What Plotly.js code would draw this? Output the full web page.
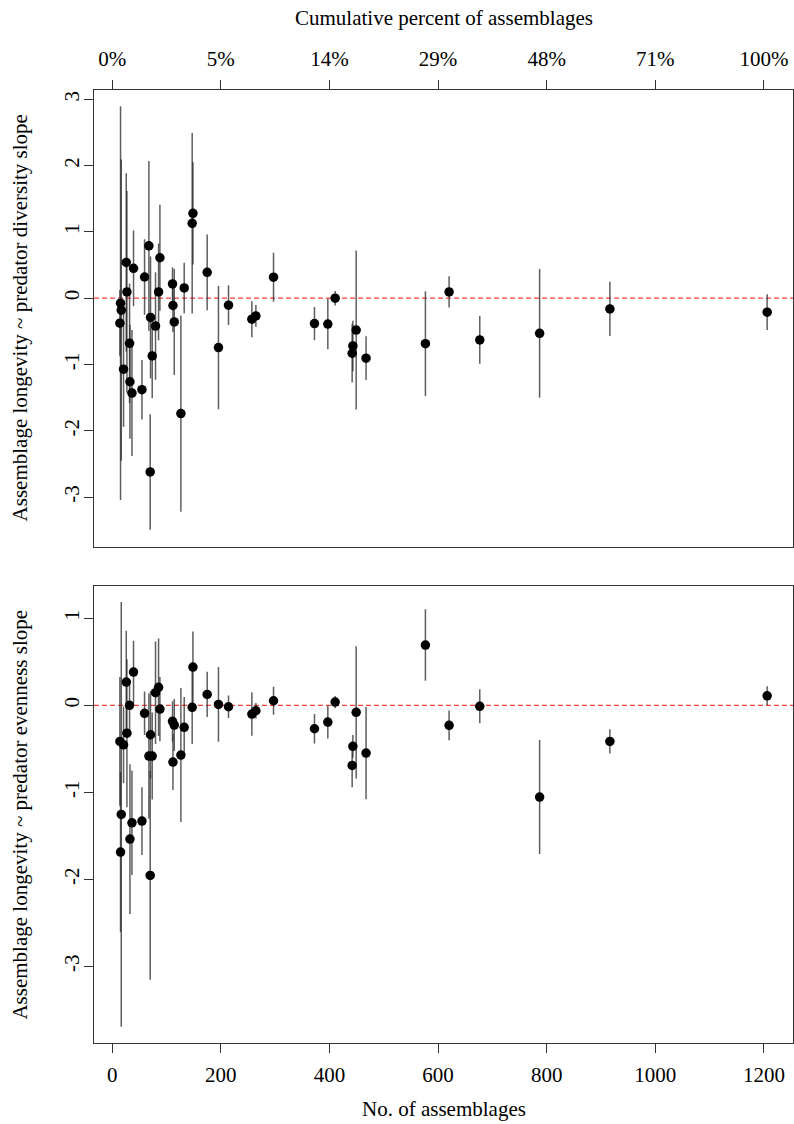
<!DOCTYPE html>
<html>
<head>
<meta charset="utf-8">
<script src="https://cdn.plot.ly/plotly-3.0.1.min.js"></script>
<style>html,body{margin:0;padding:0;background:#fff}#chart{width:794px;height:1124px}</style>
</head>
<body>
<div id="chart"></div>
<script>
// Number of assemblages (shared by both panels)
const nAssemb = [14.1, 15.3, 16.6, 20.8, 25.8, 27.0, 31.9, 32.6, 36.3, 39.2, 54.7, 59.5, 67.5, 69.9, 70.5, 73.6, 79.7, 85.3, 87.8, 111.0, 111.8, 114.2, 126.4, 132.5, 147.2, 148.6, 174.8, 195.6, 214.1, 257.1, 264.5, 297.0, 372.4, 397.0, 410.5, 441.8, 443.1, 449.2, 467.4, 576.7, 620.3, 676.8, 787.0, 916.4, 1206.0];

// Top panel: longevity ~ predator diversity slope, with CI half-widths
const divSlope = [-0.377, -0.075, -0.18, -1.07, 0.54, 0.095, -0.68, -1.26, -1.43, 0.45, -1.38, 0.32, 0.79, -2.62, -0.29, -0.87, -0.42, 0.095, 0.61, 0.215, -0.11, -0.357, -1.74, 0.155, 1.13, 1.28, 0.39, -0.745, -0.105, -0.317, -0.267, 0.317, -0.383, -0.39, 0.0, -0.83, -0.72, -0.48, -0.905, -0.685, 0.095, -0.63, -0.53, -0.161, -0.21];
const divErr = [0.5, 2.97, 2.27, 0.87, 1.345, 1.52, 0.9, 0.86, 0.95, 0.57, 0.45, 0.57, 1.28, 0.87, 0.92, 0.64, 0.81, 0.73, 0.8, 0.25, 0.4, 0.8, 1.48, 0.38, 1.36, 0.77, 0.57, 0.93, 0.3, 0.27, 0.165, 0.37, 0.25, 0.38, 0.11, 0.44, 0.38, 1.2, 0.33, 0.79, 0.235, 0.36, 0.97, 0.41, 0.27];

// Bottom panel: longevity ~ predator evenness slope, with CI half-widths
const evenSlope = [-0.414, -1.686, -1.253, -0.453, 0.268, -0.32, 0.0, -1.537, -1.35, 0.383, -1.33, -0.092, -0.583, -1.954, -0.338, -0.583, 0.145, 0.207, -0.043, -0.184, -0.652, -0.226, -0.571, -0.253, -0.023, 0.44, 0.126, 0.011, -0.016, -0.10, -0.062, 0.053, -0.269, -0.192, 0.038, -0.69, -0.471, -0.08, -0.548, 0.693, -0.23, -0.011, -1.054, -0.414, 0.11];
const evenErr = [0.74, 0.92, 2.44, 0.44, 0.59, 0.85, 0.3, 0.86, 0.6, 0.36, 0.39, 0.25, 0.72, 1.2, 0.5, 0.5, 0.59, 0.56, 0.37, 0.23, 0.32, 0.3, 0.77, 0.35, 0.42, 0.41, 0.26, 0.43, 0.13, 0.25, 0.09, 0.16, 0.17, 0.19, 0.07, 0.25, 0.13, 0.76, 0.53, 0.41, 0.17, 0.195, 0.655, 0.14, 0.11];

// Axis ticks
const xTicks = [0, 200, 400, 600, 800, 1000, 1200];
const xTickText = ['0', '200', '400', '600', '800', '1000', '1200'];
const pctTickText = ['0%', '5%', '14%', '29%', '48%', '71%', '100%'];
const yTopTicks = [-3, -2, -1, 0, 1, 2, 3];
const yBotTicks = [-3, -2, -1, 0, 1];

const FONT = 'Liberation Serif, Times New Roman, serif';
const FS = 21;
const AX = '#333';
const XRANGE = [-33.6, 1253.6];

function errBar(arr) {
  return {type: 'data', array: arr, symmetric: true, visible: true, width: 0, thickness: 1.5, color: 'rgba(40,40,40,0.75)'};
}
const marker = {color: '#000', size: 9.5, line: {width: 0}};

const traces = [
  {x: nAssemb, y: divSlope, xaxis: 'x2', yaxis: 'y2', type: 'scatter', mode: 'markers', marker: marker, error_y: errBar(divErr), hoverinfo: 'x+y'},
  {x: nAssemb, y: evenSlope, xaxis: 'x', yaxis: 'y', type: 'scatter', mode: 'markers', marker: marker, error_y: errBar(evenErr), hoverinfo: 'x+y'}
];

const baseAxis = {
  ticks: 'outside', ticklen: 9, tickwidth: 1, tickcolor: AX,
  showline: true, linecolor: AX, linewidth: 1, mirror: true,
  showgrid: false, zeroline: false, ticklabeloverflow: 'allow',
  tickfont: {family: FONT, size: FS, color: '#000'}
};

const layout = {
  width: 794, height: 1124,
  margin: {l: 94, r: 1, t: 90, b: 81},
  paper_bgcolor: '#fff', plot_bgcolor: '#fff',
  showlegend: false,
  font: {family: FONT, size: FS, color: '#000'},
  xaxis: Object.assign({}, baseAxis, {domain: [0, 1], anchor: 'y', range: XRANGE, tickmode: 'array', tickvals: xTicks, ticktext: xTickText, ticklabelstandoff: 4}),
  xaxis2: Object.assign({}, baseAxis, {domain: [0, 1], anchor: 'y2', side: 'top', range: XRANGE, tickmode: 'array', tickvals: xTicks, ticktext: pctTickText, ticklabelstandoff: 6}),
  yaxis: Object.assign({}, baseAxis, {domain: [0, 0.4794], range: [-3.88, 1.37], tickmode: 'array', tickvals: yBotTicks, ticktext: yBotTicks.map(String), tickangle: -90, ticklabelstandoff: -3}),
  yaxis2: Object.assign({}, baseAxis, {domain: [0.5206, 1], range: [-3.75, 3.14], tickmode: 'array', tickvals: yTopTicks, ticktext: yTopTicks.map(String), tickangle: -90, ticklabelstandoff: -3}),
  shapes: [
    {type: 'line', xref: 'paper', x0: 0, x1: 1, yref: 'y2', y0: 0, y1: 0, line: {color: 'rgba(255,30,30,0.85)', width: 1.3, dash: '5px,3px'}, layer: 'below'},
    {type: 'line', xref: 'paper', x0: 0, x1: 1, yref: 'y', y0: 0, y1: 0, line: {color: 'rgba(255,30,30,0.85)', width: 1.3, dash: '5px,3px'}, layer: 'below'}
  ],
  annotations: [
    {text: 'Cumulative percent of assemblages', xref: 'paper', yref: 'paper', x: 0.5, y: 1, yshift: 72, xanchor: 'center', yanchor: 'middle', showarrow: false, font: {family: FONT, size: FS}},
    {text: 'No. of assemblages', xref: 'paper', yref: 'paper', x: 0.5, y: 0, yshift: -66, xanchor: 'center', yanchor: 'middle', showarrow: false, font: {family: FONT, size: FS}},
    {text: 'Assemblage longevity ~ predator diversity slope', xref: 'paper', yref: 'paper', x: 0, xshift: -74, y: 0.7603, xanchor: 'center', yanchor: 'middle', textangle: -90, showarrow: false, font: {family: FONT, size: FS}},
    {text: 'Assemblage longevity ~ predator evenness slope', xref: 'paper', yref: 'paper', x: 0, xshift: -74, y: 0.2397, xanchor: 'center', yanchor: 'middle', textangle: -90, showarrow: false, font: {family: FONT, size: FS}}
  ]
};

Plotly.newPlot('chart', traces, layout, {displayModeBar: false, staticPlot: true});
</script>
</body>
</html>
